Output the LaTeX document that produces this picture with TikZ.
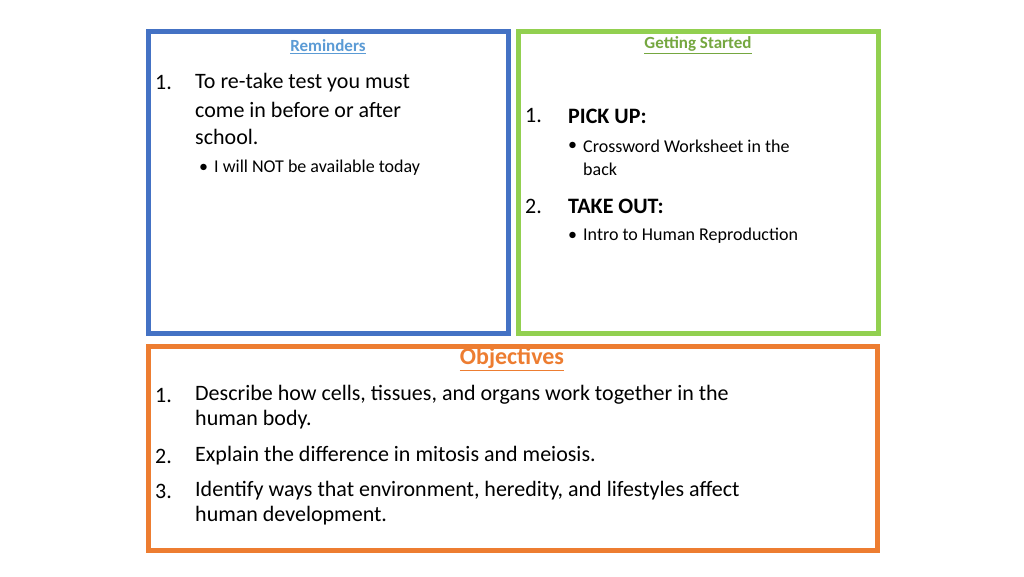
\documentclass[tikz,border=0pt]{standalone}
\usepackage{fontspec}
\setmainfont{Carlito}
\definecolor{bblue}{HTML}{4472C4}
\definecolor{hblue}{HTML}{5B9BD5}
\definecolor{bgreen}{HTML}{92D050}
\definecolor{borange}{HTML}{ED7D31}
\begin{document}
\begin{tikzpicture}[x=1pt,y=-1pt,
  frame/.style={line width=5pt},
  big/.style={anchor=west,inner sep=0pt,font=\fontsize{22}{26}\selectfont},
  small/.style={anchor=west,inner sep=0pt,font=\fontsize{18}{22}\selectfont},
  head/.style={inner sep=0pt,font=\fontsize{17}{20}\selectfont\bfseries}]
\useasboundingbox (0,0) rectangle (1024,576);
\fill[white] (0,0) rectangle (1024,576);
\draw[frame,bblue] (148,31) rectangle (508,333);
\draw[frame,bgreen] (518,31) rectangle (878,333);
\draw[frame,borange] (148,346) rectangle (877,550);
% Reminders
\node[head,text=hblue] (rh) at (328,47) {\underline{Reminders}};
\node[big] (r1n) at (155,83) {1.};
\node[big] (r1a) at (195,83) {To re-take test you must};
\node[big] (r1b) at (195,110) {come in before or after};
\node[big] (r1c) at (195,137) {school.};
\node[small] (r1d) at (199,168) {•};
\node[small] (r1e) at (214,168) {I will NOT be available today};
% Getting started
\node[head,text=bgreen!80!black] (gh) at (698,45) {\underline{Getting Started}};
\node[big] (g1n) at (525,116) {1.};
\node[big] (g1) at (568,116) {\textbf{PICK UP:}};
\node[small] (g1d) at (568,146) {•};
\node[small] (g1a) at (583,146) {Crossword Worksheet in the};
\node[small] (g1b) at (583,169) {back};
\node[big] (g2n) at (525,206) {2.};
\node[big] (g2) at (568,206) {\textbf{TAKE OUT:}};
\node[small] (g2d) at (568,236) {•};
\node[small] (g2a) at (583,236) {Intro to Human Reproduction};
% Objectives
\node[inner sep=0pt,font=\fontsize{24}{28}\selectfont\bfseries,text=borange] (oh) at (512,359) {\underline{Objectives}};
\node[big] (o1n) at (155,395) {1.};
\node[big] (o1a) at (195,395) {Describe how cells, tissues, and organs work together in the};
\node[big] (o1b) at (195,420) {human body.};
\node[big] (o2n) at (155,456) {2.};
\node[big] (o2) at (195,456) {Explain the difference in mitosis and meiosis.};
\node[big] (o3n) at (155,491) {3.};
\node[big] (o3a) at (195,491) {Identify ways that environment, heredity, and lifestyles affect};
\node[big] (o3b) at (195,516) {human development.};
\end{tikzpicture}
\end{document}
